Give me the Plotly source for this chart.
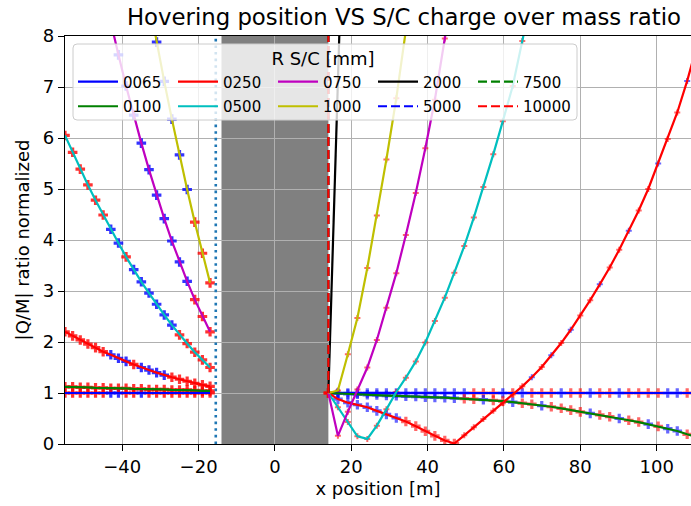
import plotly.graph_objects as go

# Hovering position grid [m]: left of the body and right of the body
X_LEFT = [-55, -53, -51, -49, -47, -45, -43, -41, -39, -37, -35, -33, -31,
          -29, -27, -25, -23, -21, -19, -17]
X_RIGHT = [14.0, 16.5, 19.1, 21.6, 24.2, 26.7, 29.2, 31.8, 34.3, 36.9, 39.4,
           41.9, 44.5, 47.0, 49.6, 52.1, 54.6, 57.2, 59.7, 62.3, 64.8, 67.3,
           69.9, 72.4, 75.0, 77.5, 80.0, 82.6, 85.1, 87.7, 90.2, 92.7, 95.3,
           97.8, 100.4, 102.9, 105.4, 108.0, 110.5]
X_WALL = [14.0, 14.0]

# Body extent and safety line [m]
BODY_X = [-14.0, 14.0]
SAFE_X = -15.5

RADII = ["0065", "0100", "0250", "0500", "0750", "1000", "2000", "5000",
         "7500", "10000"]

# Normalised |Q/M| on the left side (aligned to the last points of X_LEFT)
q0065_left = [1.0, 1.0, 1.0, 1.0, 1.0, 1.0, 1.0, 1.0, 1.0, 1.0, 1.0, 1.0,
              1.0, 1.0, 1.0, 1.0, 1.0, 1.0, 1.0, 1.0]
q0100_left = [1.12, 1.12, 1.11, 1.11, 1.10, 1.10, 1.09, 1.09, 1.09, 1.08,
              1.08, 1.07, 1.07, 1.07, 1.06, 1.06, 1.06, 1.05, 1.04, 1.04]
q0250_left = [2.20, 2.12, 2.04, 1.96, 1.89, 1.81, 1.75, 1.68, 1.62, 1.56,
              1.50, 1.45, 1.40, 1.35, 1.31, 1.27, 1.23, 1.19, 1.16, 1.13]
q0500_left = [6.05, 5.72, 5.39, 5.08, 4.78, 4.49, 4.21, 3.94, 3.67, 3.42,
              3.18, 2.96, 2.74, 2.53, 2.33, 2.14, 1.97, 1.80, 1.65, 1.50]
q0750_left = [8.92, 8.26, 7.63, 7.02, 6.45, 5.90, 5.38, 4.88, 4.42, 3.98,
              3.57, 3.19, 2.83, 2.50, 2.20]
q1000_left = [8.69, 7.88, 7.11, 6.37, 5.67, 4.99, 4.35, 3.74, 3.16]

# Normalised |Q/M| on the right side (aligned to the first points of X_RIGHT)
q0065_right = [1.0, 1.0, 1.0, 1.0, 1.0, 1.0, 1.0, 1.0, 1.0, 1.0, 1.0, 1.0,
               1.0, 1.0, 1.0, 1.0, 1.0, 1.0, 1.0, 1.0, 1.0, 1.0, 1.0, 1.0,
               1.0, 1.0, 1.0, 1.0, 1.0, 1.0, 1.0, 1.0, 1.0, 1.0, 1.0, 1.0,
               1.0, 1.0, 1.0]
q0100_right = [1.00, 0.99, 0.98, 0.975, 0.965, 0.96, 0.95, 0.945, 0.935,
               0.93, 0.92, 0.915, 0.91, 0.90, 0.89, 0.88, 0.87, 0.855, 0.84,
               0.82, 0.80, 0.78, 0.75, 0.73, 0.70, 0.665, 0.63, 0.60, 0.57,
               0.535, 0.50, 0.465, 0.43, 0.39, 0.345, 0.30, 0.255, 0.19, 0.14]
q0250_right = [1.0, 0.88, 0.81, 0.77, 0.72, 0.65, 0.58, 0.51, 0.44, 0.35,
               0.25, 0.16, 0.07, 0.01, 0.17, 0.33, 0.49, 0.65, 0.80, 0.97,
               1.13, 1.31, 1.51, 1.74, 1.98, 2.24, 2.52, 2.82, 3.13, 3.46,
               3.81, 4.18, 4.58, 5.00, 5.50, 5.98, 6.50, 7.12, 7.80]
q0500_right = [1.0, 0.72, 0.43, 0.15, 0.10, 0.36, 0.68, 1.02, 1.30, 1.62,
               1.99, 2.41, 2.87, 3.36, 3.88, 4.44, 5.04, 5.68, 6.33, 7.02,
               7.90, 8.80]
q0750_right = [1.0, 0.16, 0.63, 1.07, 1.50, 2.04, 2.67, 3.35, 4.10, 4.92,
               5.80, 6.75, 7.95, 9.10]
q1000_right = [1.0, 1.05, 1.76, 2.47, 3.45, 4.48, 5.58, 6.78, 8.10, 9.50]
q2000_right = [1.0, 7.2, 13.5]
q5000_wall = [1.0, 8.5]
q7500_wall = [1.0, 8.5]
q10000_wall = [1.0, 8.5]

# Sign of the computed charge at each sample (+1 / -1)
sgn0065_left = [1, 1, 1, 1, 1, 1, -1, -1, 1, 1, -1, 1, 1, 1, 1, 1, 1, 1, 1, 1]
sgn0100_left = [1, 1, 1, 1, 1, 1, 1, 1, 1, 1, 1, 1, 1, 1, 1, 1, 1, 1, 1, 1]
sgn0250_left = [1, 1, 1, 1, 1, 1, -1, -1, -1, 1, -1, -1, -1, -1, 1, 1, 1, 1,
                1, 1]
sgn0500_left = [1, 1, 1, 1, 1, 1, -1, -1, 1, -1, -1, -1, -1, -1, -1, 1, 1, 1,
                1, 1]
sgn0750_left = [-1, -1, -1, -1, -1, -1, -1, -1, -1, -1, -1, -1, 1, 1, 1]
sgn1000_left = [-1, -1, -1, -1, -1, -1, 1, 1, 1]

sgn0065_right = [1, -1, -1, -1, -1, -1, -1, -1, -1, -1, -1, -1, -1, -1, -1,
                 1, 1, 1, -1, 1, -1, 1, 1, 1, -1, 1, 1, -1, 1, 1, -1, 1, 1,
                 1, 1, -1, -1, 1, 1]
sgn0100_right = [1, -1, -1, -1, -1, -1, -1, -1, -1, -1, -1, -1, -1, -1,
                 1, 1, -1, 1, 1, -1, 1, 1, -1, 1, 1, 1, 1, -1, 1, 1, -1, 1,
                 1, -1, 1, -1, -1, 1, 1]
sgn0250_right = [1, -1, -1, -1, -1, -1, -1, -1, 1, 1, 1, 1, 1, 1,
                 1, 1, 1, 1, 1, 1, 1, -1, 1, -1, 1, -1, 1, 1, -1, 1, 1, -1,
                 1, 1, -1, 1, 1, -1, 1]
sgn0500_right = [1, 1, 1, 1, 1, 1, 1, 1, 1, 1, 1, 1, 1, 1, 1, 1, 1, 1, 1, 1,
                 1, 1]
sgn0750_right = [1, 1, 1, 1, 1, 1, 1, 1, 1, 1, 1, 1, 1, 1]
sgn1000_right = [1, 1, 1, 1, 1, 1, 1, 1, 1, 1]

LINE_COLORS = {"0065": "#0000ff", "0100": "#008000", "0250": "#ff0000",
               "0500": "#00bfbf", "0750": "#bf00bf", "1000": "#bfbf00",
               "2000": "#000000", "5000": "#0000ff", "7500": "#008000",
               "10000": "#ff0000"}
SIGN_COLORS = {1: "rgba(255,0,0,0.8)", -1: "rgba(0,0,255,0.8)"}
FONT = "DejaVu Sans"


def left_x(q):
    return X_LEFT[len(X_LEFT) - len(q):]


def right_x(q):
    return X_RIGHT[:len(q)]


left_data = {"0065": (q0065_left, sgn0065_left),
             "0100": (q0100_left, sgn0100_left),
             "0250": (q0250_left, sgn0250_left),
             "0500": (q0500_left, sgn0500_left),
             "0750": (q0750_left, sgn0750_left),
             "1000": (q1000_left, sgn1000_left)}
right_data = {"0065": (q0065_right, sgn0065_right),
              "0100": (q0100_right, sgn0100_right),
              "0250": (q0250_right, sgn0250_right),
              "0500": (q0500_right, sgn0500_right),
              "0750": (q0750_right, sgn0750_right),
              "1000": (q1000_right, sgn1000_right)}

fig = go.Figure()

# sample markers first, so the curves sit on top of them
for r in RADII:
    if r in left_data:
        q, s = left_data[r]
        fig.add_trace(go.Scatter(
            x=left_x(q), y=q, mode="markers", showlegend=False,
            hoverinfo="skip",
            marker=dict(symbol="cross", size=8,
                        color=[SIGN_COLORS[v] for v in s], line_width=0)))
    if r in right_data:
        q, s = right_data[r]
        xs = right_x(q)
        if r in ("0065", "0100"):
            sizes = [8] * len(q)
        elif r == "0250":
            sizes = [8 if xv < 48 else 5 for xv in xs]
        else:
            sizes = [5] * len(q)
        fig.add_trace(go.Scatter(
            x=xs, y=q, mode="markers", showlegend=False, hoverinfo="skip",
            marker=dict(symbol="cross", size=sizes,
                        color=[SIGN_COLORS[v] for v in s], line_width=0,
                        opacity=0.75)))

# safety distance line
fig.add_trace(go.Scatter(
    x=[SAFE_X, SAFE_X], y=[0, 8], mode="lines", showlegend=False,
    hoverinfo="skip",
    line=dict(color="#1f77b4", width=2.6, dash="2.6px,4px")))

# one curve per spacecraft radius
legend_row = {"0065": "legend", "0250": "legend", "0750": "legend",
              "2000": "legend", "7500": "legend",
              "0100": "legend2", "0500": "legend2", "1000": "legend2",
              "5000": "legend2", "10000": "legend2"}
wall_data = {"5000": q5000_wall, "7500": q7500_wall, "10000": q10000_wall}

for r in RADII:
    if r in wall_data:
        xs, ys = X_WALL, wall_data[r]
        dash = "9px,4px"
    else:
        xs, ys = [], []
        if r in left_data:
            q = left_data[r][0]
            xs += left_x(q) + [None]
            ys += q + [None]
        q = right_data[r][0] if r in right_data else q2000_right
        xs += right_x(q)
        ys += q
        dash = "solid"
    fig.add_trace(go.Scatter(
        x=xs, y=ys, mode="lines", name=r, legend=legend_row[r],
        line=dict(color=LINE_COLORS[r], width=2.2, dash=dash)))

# legend frame
PW, PH = 626.0, 408.0
x0, x1 = (73 - 65) / PW, (577 - 65) / PW
y0, y1 = (444 - 120) / PH, (444 - 44) / PH
rx, ry = 4 / PW, 4 / PH
frame = (f"M{x0+rx},{y0} L{x1-rx},{y0} Q{x1},{y0} {x1},{y0+ry} "
         f"L{x1},{y1-ry} Q{x1},{y1} {x1-rx},{y1} L{x0+rx},{y1} "
         f"Q{x0},{y1} {x0},{y1-ry} L{x0},{y0+ry} Q{x0},{y0} {x0+rx},{y0} Z")

fig.update_layout(
    width=691, height=506,
    margin=dict(l=65, r=0, t=36, b=62),
    paper_bgcolor="white", plot_bgcolor="white",
    font=dict(family=FONT, color="black"),
    title=dict(text="Hovering position VS S/C charge over mass ratio",
               x=(404 - 65) / PW, xref="paper", xanchor="center",
               y=1 - 17 / 506, yref="container", yanchor="middle",
               font=dict(size=22.8, color="black")),
    shapes=[
        dict(type="rect", xref="x", yref="y domain", x0=BODY_X[0],
             x1=BODY_X[1], y0=0, y1=1, fillcolor="#808080",
             line_width=0, layer="below"),
        dict(type="path", xref="paper", yref="paper", path=frame,
             fillcolor="rgba(255,255,255,0.8)",
             line=dict(color="#cccccc", width=1), layer="above"),
    ],
    legend=dict(orientation="h", x=x0, xanchor="left",
                y=(444 - 42) / PH, yanchor="top",
                bgcolor="rgba(0,0,0,0)", borderwidth=0,
                itemwidth=40, entrywidth=45, entrywidthmode="pixels",
                font=dict(size=15, color="black"),
                title=dict(text="R S/C [mm]", side="top center",
                           font=dict(size=18, color="black"))),
    legend2=dict(orientation="h", x=x0, xanchor="left",
                 y=(444 - 90) / PH, yanchor="top",
                 bgcolor="rgba(0,0,0,0)", borderwidth=0,
                 itemwidth=40, entrywidth=45, entrywidthmode="pixels",
                 font=dict(size=15, color="black")),
)

axis_common = dict(showgrid=True, gridcolor="#b0b0b0", gridwidth=1.4,
                   zeroline=False, showline=True, linecolor="black",
                   linewidth=1.4, ticks="outside", ticklen=6, tickwidth=1.4,
                   tickcolor="black", tickfont=dict(size=18, color="black"))

fig.update_xaxes(range=[-55, 109], tick0=0, dtick=20, mirror=True,
                 title=dict(text="x position [m]", font=dict(size=18),
                            standoff=6),
                 **axis_common)
fig.update_yaxes(range=[0, 8], tick0=0, dtick=1,
                 title=dict(text="|Q/M| ratio normalized", font=dict(size=18),
                            standoff=8),
                 **axis_common)

fig.write_html("out.html")
